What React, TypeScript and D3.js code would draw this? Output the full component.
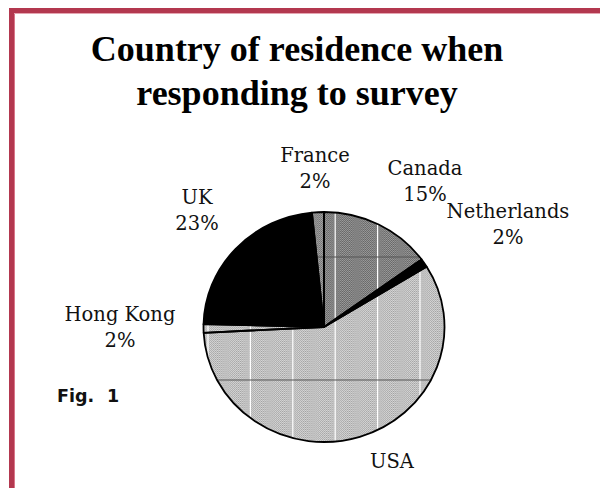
import React from "react";
import * as d3 from "d3";

const countries = ["Canada", "Netherlands", "USA", "Hong Kong", "UK", "France"];
const shares = [15, 1.2, 58, 1.2, 23, 1.6];
const shareLabels = ["15%", "2%", "", "2%", "23%", "2%"];
const fills = ["url(#patDark)", "#000", "url(#patLight)", "url(#patLight)", "#000", "url(#patMid)"];
const isSolid = [false, true, false, false, true, false];
const labelPos: [number, number][] = [
  [425, 175],
  [508, 218],
  [392, 468],
  [120, 321],
  [197, 204],
  [315, 162],
];
const titleLines = ["Country of residence when", "responding to survey"];

const W = 600;
const H = 488;
const cx = 324;
const cy = 327;
const rx = 120.5;
const ry = 115;

export default function App() {
  const pie = d3
    .pie<number>()
    .sort(null)
    .value((d) => d)
    .startAngle(0)
    .endAngle(2 * Math.PI);
  const arcs = pie(shares);
  const arc = d3.arc<d3.PieArcDatum<number>>().innerRadius(0).outerRadius(ry);
  const sx = rx / ry;

  const vx = d3.range(-3, 3).map((k) => cx - 116 + (k + 3) * 42.4);
  const hy = [cy - 70, cy + 53];

  return (
    <svg
      width={W}
      height={H}
      style={{ position: "absolute", left: 0, top: 0, background: "#fff" }}
    >
      <defs>
        <pattern id="patDark" width={2} height={2} patternUnits="userSpaceOnUse">
          <rect width={2} height={2} fill="#666" />
          <rect x={0} y={0} width={1} height={1} fill="#9c9c9c" />
          <rect x={1} y={1} width={1} height={1} fill="#9c9c9c" />
        </pattern>
        <pattern id="patMid" width={2} height={2} patternUnits="userSpaceOnUse">
          <rect width={2} height={2} fill="#707070" />
          <rect x={0} y={0} width={1} height={1} fill="#a8a8a8" />
          <rect x={1} y={1} width={1} height={1} fill="#a8a8a8" />
        </pattern>
        <pattern id="patLight" width={2} height={2} patternUnits="userSpaceOnUse">
          <rect width={2} height={2} fill="#d6d6d6" />
          <rect x={0} y={0} width={1} height={1} fill="#a2a2a2" />
          <rect x={1} y={1} width={1} height={1} fill="#b0b0b0" />
        </pattern>
        <clipPath id="pieClip">
          <ellipse cx={cx} cy={cy} rx={rx} ry={ry} />
        </clipPath>
      </defs>

      {/* frame */}
      <rect x={9} y={8} width={W - 9} height={5} fill="#b3384f" />
      <rect x={9} y={8} width={6} height={H - 8} fill="#b3384f" />
      <rect x={14} y={13} width={1} height={H - 13} fill="#d9778a" />
      <rect x={14} y={13} width={W - 14} height={1} fill="#e5a5b1" />

      {/* title */}
      {titleLines.map((t, i) => (
        <text
          key={t}
          x={297}
          y={61 + i * 44}
          textAnchor="middle"
          fontFamily="'Liberation Serif', 'Times New Roman', serif"
          fontWeight="bold"
          fontSize={36}
          fill="#000"
        >
          {t}
        </text>
      ))}

      <g transform={`translate(${cx},${cy}) scale(${sx},1)`}>
        {arcs.map((a, i) =>
          isSolid[i] ? null : (
            <path key={"f" + i} d={arc(a) || ""} fill={fills[i]} />
          )
        )}
      </g>

      {/* background grid visible through the pie */}
      <g clipPath="url(#pieClip)">
        {vx.map((x) => (
          <line key={"v" + x} x1={x} x2={x} y1={cy - ry} y2={cy + ry} stroke="#fff" strokeWidth={1.2} />
        ))}
        {hy.map((y) => (
          <line key={"h" + y} x1={cx - rx} x2={cx + rx} y1={y} y2={y} stroke="#555" strokeWidth={1} />
        ))}
      </g>

      <g transform={`translate(${cx},${cy}) scale(${sx},1)`}>
        {arcs.map((a, i) =>
          isSolid[i] ? (
            <path key={"s" + i} d={arc(a) || ""} fill={fills[i]} />
          ) : null
        )}
        {arcs.map((a, i) => (
          <path
            key={"o" + i}
            d={arc(a) || ""}
            fill="none"
            stroke="#000"
            strokeWidth={1.8}
            strokeLinejoin="round"
            vectorEffect="non-scaling-stroke"
          />
        ))}
      </g>

      {/* labels */}
      {countries.map((c, i) => (
        <text
          key={c}
          textAnchor="middle"
          fontFamily="'DejaVu Serif', serif"
          fontSize={19.5}
          fill="#111"
        >
          <tspan x={labelPos[i][0]} y={labelPos[i][1]}>
            {c}
          </tspan>
          {shareLabels[i] ? (
            <tspan x={labelPos[i][0]} y={labelPos[i][1] + 26}>
              {shareLabels[i]}
            </tspan>
          ) : null}
        </text>
      ))}

      <text fontFamily="'DejaVu Sans', sans-serif" fontWeight="bold" fontSize={17.5} fill="#111">
        <tspan x={57} y={402}>Fig.</tspan>
        <tspan x={107} y={402}>1</tspan>
      </text>
    </svg>
  );
}
